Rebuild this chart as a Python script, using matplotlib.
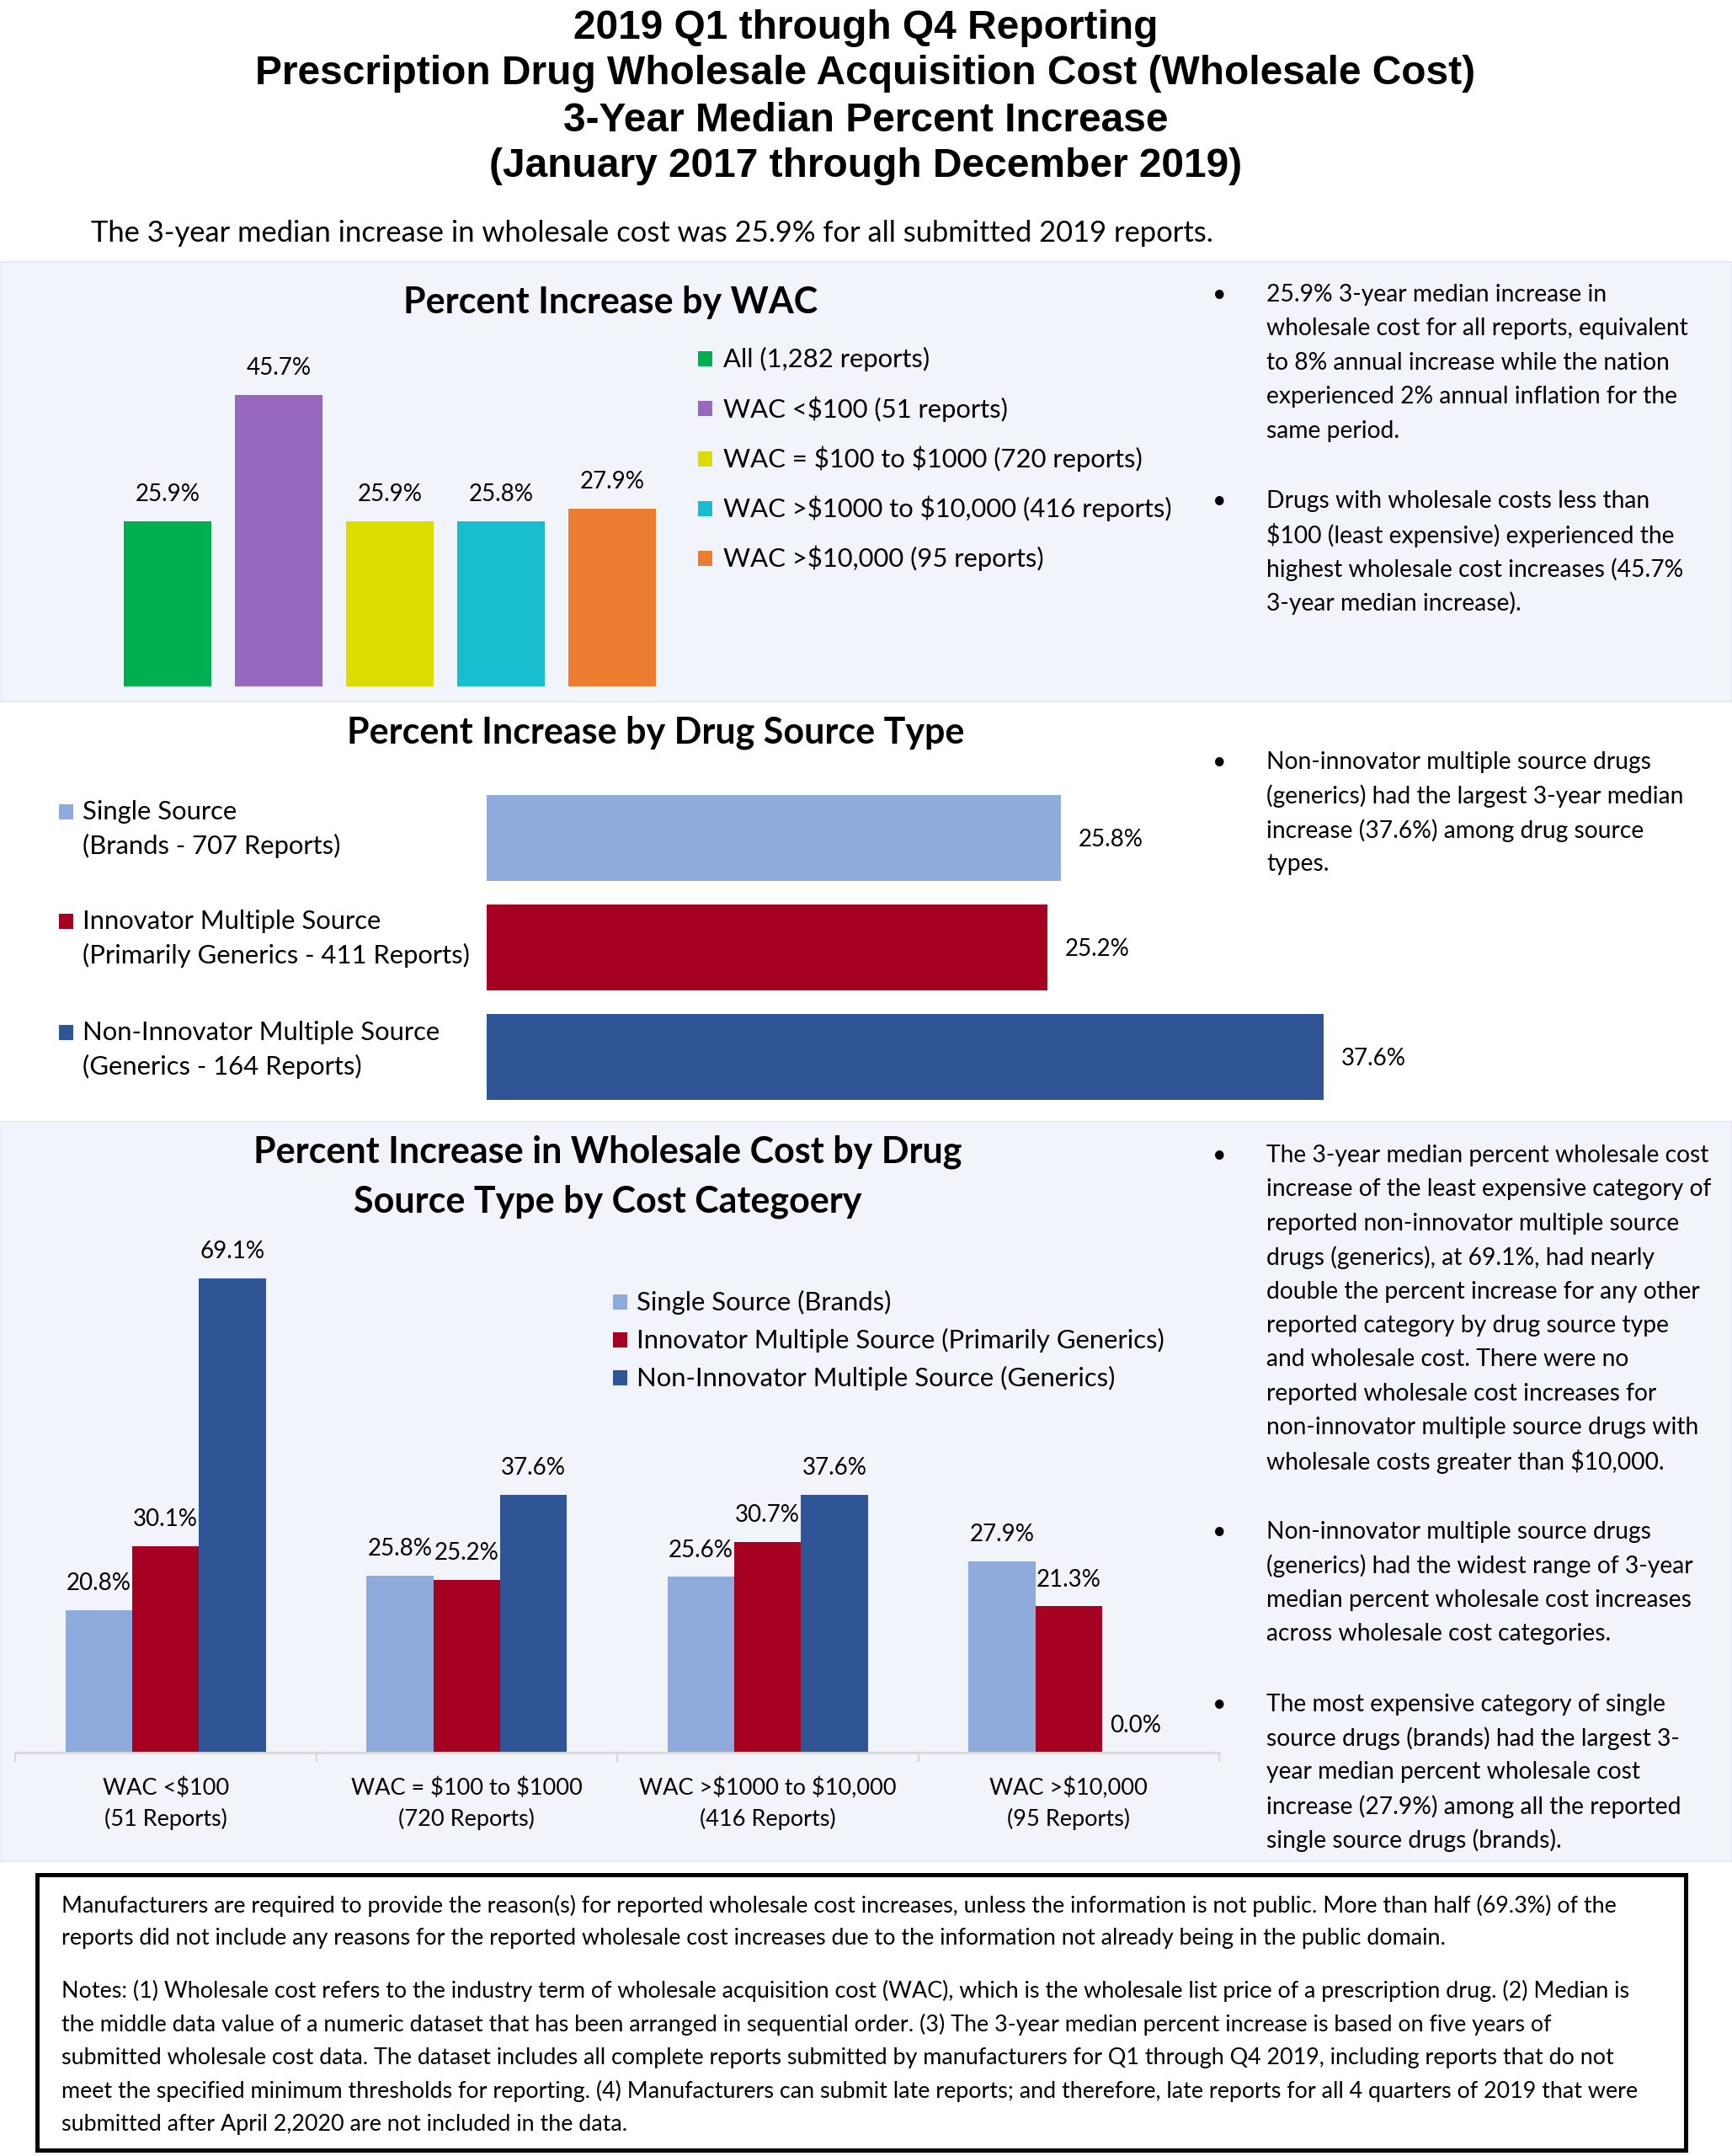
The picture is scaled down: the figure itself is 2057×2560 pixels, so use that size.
import matplotlib
matplotlib.use("Agg")
import matplotlib.pyplot as plt
from matplotlib.patches import Rectangle
from matplotlib.transforms import blended_transform_factory

plt.rcParams['text.parse_math'] = False
plt.rcParams['font.family'] = ['Lato', 'DejaVu Sans']

# ---- data ----
title_lines = ["2019 Q1 through Q4 Reporting",
               "Prescription Drug Wholesale Acquisition Cost (Wholesale Cost)",
               "3-Year Median Percent Increase",
               "(January 2017 through December 2019)"]
subtitle = "The 3-year median increase in wholesale cost was 25.9% for all submitted 2019 reports."

wac_labels = ["All (1,282 reports)", "WAC <$100 (51 reports)", "WAC = $100 to $1000 (720 reports)",
              "WAC >$1000 to $10,000 (416 reports)", "WAC >$10,000 (95 reports)"]
wac_values = [25.9, 45.7, 25.9, 25.8, 27.9]
wac_colors = ["#00B050", "#9668BE", "#DCDC00", "#17BECF", "#ED7D31"]

source_labels = ["Single Source\n(Brands - 707 Reports)",
                 "Innovator Multiple Source\n(Primarily Generics - 411 Reports)",
                 "Non-Innovator Multiple Source\n(Generics - 164 Reports)"]
source_values = [25.8, 25.2, 37.6]
source_colors = ["#8FAADC", "#A50021", "#2F5597"]

cost_categories = ["WAC <$100\n(51 Reports)", "WAC = $100 to $1000\n(720 Reports)",
                   "WAC >$1000 to $10,000\n(416 Reports)", "WAC >$10,000\n(95 Reports)"]
series_names = ["Single Source (Brands)", "Innovator Multiple Source (Primarily Generics)",
                "Non-Innovator Multiple Source (Generics)"]
single_vals = [20.8, 25.8, 25.6, 27.9]
innov_vals = [30.1, 25.2, 30.7, 21.3]
noninnov_vals = [69.1, 37.6, 37.6, 0.0]

bullets_wac = [["25.9% 3-year median increase in",
                "wholesale cost for all reports, equivalent",
                "to 8% annual increase while the nation",
                "experienced 2% annual inflation for the",
                "same period."],
               ["Drugs with wholesale costs less than",
                "$100 (least expensive) experienced the",
                "highest wholesale cost increases (45.7%",
                "3-year median increase)."]]
bullets_source = [["Non-innovator multiple source drugs",
                   "(generics) had the largest 3-year median",
                   "increase (37.6%) among drug source",
                   "types."]]
bullets_cost = [["The 3-year median percent wholesale cost",
                 "increase of the least expensive category of",
                 "reported non-innovator multiple source",
                 "drugs (generics), at 69.1%, had nearly",
                 "double the percent increase for any other",
                 "reported category by drug source type",
                 "and wholesale cost. There were no",
                 "reported wholesale cost increases for",
                 "non-innovator multiple source drugs with",
                 "wholesale costs greater than $10,000."],
                ["Non-innovator multiple source drugs",
                 "(generics) had the widest range of 3-year",
                 "median percent wholesale cost increases",
                 "across wholesale cost categories."],
                ["The most expensive category of single",
                 "source drugs (brands) had the largest 3-",
                 "year median percent wholesale cost",
                 "increase (27.9%) among all the reported",
                 "single source drugs (brands)."]]

footer_par1 = ["Manufacturers are required to provide the reason(s) for reported wholesale cost increases, unless the information is not public. More than half (69.3%) of the",
               "reports did not include any reasons for the reported wholesale cost increases due to the information not already being in the public domain."]
footer_par2 = ["Notes: (1) Wholesale cost refers to the industry term of wholesale acquisition cost (WAC), which is the wholesale list price of a prescription drug. (2) Median is",
               "the middle data value of a numeric dataset that has been arranged in sequential order. (3) The 3-year median percent increase is based on five years of",
               "submitted wholesale cost data. The dataset includes all complete reports submitted by manufacturers for Q1 through Q4 2019, including reports that do not",
               "meet the specified minimum thresholds for reporting. (4) Manufacturers can submit late reports; and therefore, late reports for all 4 quarters of 2019 that were",
               "submitted after April 2,2020 are not included in the data."]

# ---- layout (pixels) ----
W, H = 2057, 2560
PANEL = "#F1F4FB"
BODY = 20.3       # bullet text
FOOT = 19.4       # footer notes
LEGEND = 22.3     # legend / category names
VALUE = 20        # bar value labels
CATEG = 19.5      # x category labels
PTITLE = 31       # panel titles
DY = 2            # small nudge so text centres sit like the reference


def px_axes(fig, x0, y0, x1, y1):
    return fig.add_axes([x0 / W, 1 - y1 / H, (x1 - x0) / W, (y1 - y0) / H])


def put_lines(ax, x, y0, lines, dy, **kw):
    for i, s in enumerate(lines):
        ax.text(x, y0 + DY + i * dy, s, va='center', **kw)


def put_bullets(ax, y0, groups, gap=43, dy=40.4):
    y = y0
    for g in groups:
        ax.text(1448, y + DY, "\u2022", ha='center', va='center', fontsize=BODY)
        put_lines(ax, 1504, y, g, dy, fontsize=BODY)
        y += len(g) * dy + gap


fig = plt.figure(figsize=(W / 100, H / 100), dpi=100)
bg = fig.add_axes([0, 0, 1, 1])
bg.set_xlim(0, W)
bg.set_ylim(H, 0)
bg.axis('off')

bg.add_patch(Rectangle((0, 311), W, 522, facecolor=PANEL, edgecolor="#E6EAF3", lw=1.5))
bg.add_patch(Rectangle((0, 1332), W, 878, facecolor=PANEL, edgecolor="#E6EAF3", lw=1.5))

# titles
for i, s in enumerate(title_lines):
    bg.text(1028, 33 + i * 55, s, ha='center', va='center', fontsize=34.5,
            fontweight='bold', family='Liberation Sans')
bg.text(108, 275 + DY, subtitle, va='center', fontsize=24.8)

# ---- panel 1: by WAC ----
bg.text(725, 357 + DY, "Percent Increase by WAC", ha='center', va='center',
        fontsize=PTITLE, fontweight='bold')
ax1 = px_axes(fig, 133, 436, 793, 815)
ax1.bar(range(len(wac_values)), wac_values, width=0.79, color=wac_colors)
ax1.set_xlim(-0.5, len(wac_values) - 0.5)
ax1.set_ylim(0, 50)
ax1.axis('off')
for i, v in enumerate(wac_values):
    ax1.annotate(f"{v:.1f}%", (i, v), xytext=(0, 23), textcoords='offset points',
                 ha='center', va='center', fontsize=VALUE)
for i, (lab, c) in enumerate(zip(wac_labels, wac_colors)):
    y = 424 + i * 59.3
    bg.add_patch(Rectangle((829, y - 7), 17, 18, facecolor=c, edgecolor='none'))
    bg.text(859, y + DY, lab, va='center', fontsize=LEGEND)
put_bullets(bg, 348, bullets_wac)

# ---- panel 2: by drug source type ----
bg.text(779, 868 + DY, "Percent Increase by Drug Source Type", ha='center', va='center',
        fontsize=PTITLE, fontweight='bold')
ax2 = px_axes(fig, 578, 930, 1900, 1320)
ax2.barh(range(len(source_values)), source_values, height=0.79, color=source_colors)
ax2.set_ylim(len(source_values) - 0.5, -0.5)
ax2.set_xlim(0, 50)
ax2.axis('off')
for i, v in enumerate(source_values):
    ax2.annotate(f"{v:.1f}%", (v, i), xytext=(15, -1.5), textcoords='offset points',
                 ha='left', va='center', fontsize=VALUE)
for i, (lab, c) in enumerate(zip(source_labels, source_colors)):
    y0 = [962, 1092, 1224][i]
    bg.add_patch(Rectangle((70, y0 - 7), 17, 18, facecolor=c, edgecolor='none'))
    put_lines(bg, 98, y0, lab.split("\n"), 40.5, fontsize=LEGEND)
put_bullets(bg, 903, bullets_source)

# ---- panel 3: by source type and cost category ----
bg.text(722, 1366 + DY, "Percent Increase in Wholesale Cost by Drug", ha='center', va='center',
        fontsize=PTITLE, fontweight='bold')
bg.text(722, 1425 + DY, "Source Type by Cost Categoery", ha='center', va='center',
        fontsize=PTITLE, fontweight='bold')
ax3 = px_axes(fig, 18, 1470, 1448, 2081)
ax3.set_facecolor('none')
bw = 0.222
xs = range(len(cost_categories))
for k, (vals, c) in enumerate(zip([single_vals, innov_vals, noninnov_vals], source_colors)):
    pos = [x + (k - 1) * bw for x in xs]
    ax3.bar(pos, vals, width=bw, color=c)
    for p, v in zip(pos, vals):
        ax3.annotate(f"{v:.1f}%", (p, v), xytext=(0, 23), textcoords='offset points',
                     ha='center', va='center', fontsize=VALUE)
ax3.set_xlim(-0.5, len(cost_categories) - 0.5)
ax3.set_ylim(0, 75)
for s in ['top', 'left', 'right']:
    ax3.spines[s].set_visible(False)
ax3.spines['bottom'].set_color('#D9D9D9')
ax3.spines['bottom'].set_linewidth(2)
ax3.set_yticks([])
ax3.set_xticks([x - 0.5 for x in range(len(cost_categories) + 1)])
ax3.set_xticklabels([])
ax3.tick_params(axis='x', length=8, width=1.5, color='#D9D9D9')
tr3 = blended_transform_factory(ax3.transData, bg.transData)
for x, lab in zip(xs, cost_categories):
    for j, s in enumerate(lab.split("\n")):
        bg.text(x, 2121 + DY + j * 37, s, ha='center', va='center', fontsize=CATEG, transform=tr3)
for i, (name, c) in enumerate(zip(series_names, source_colors)):
    y = 1544 + i * 45
    bg.add_patch(Rectangle((728, y - 7), 17, 18, facecolor=c, edgecolor='none'))
    bg.text(756, y + DY, name, va='center', fontsize=LEGEND)
put_bullets(bg, 1370, bullets_cost)

# ---- footer ----
bg.add_patch(Rectangle((44, 2226), 1958, 327, fill=False, edgecolor='black', lw=3.6))
put_lines(bg, 73, 2261, footer_par1, 38, fontsize=FOOT)
put_lines(bg, 73, 2362, footer_par2, 39.7, fontsize=FOOT)

fig.savefig("out.png", dpi=100)
